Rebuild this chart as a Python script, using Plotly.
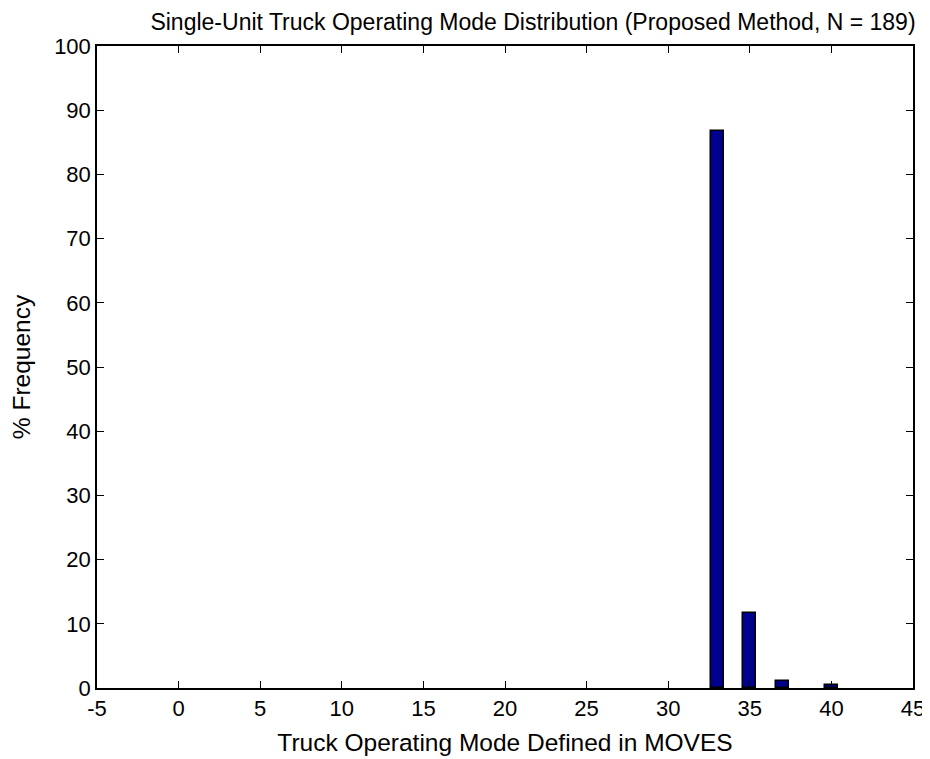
import plotly.graph_objects as go

op_modes = [33, 35, 37, 40]
pct_freq = [86.77, 11.64, 1.06, 0.53]

x_ticks = [-5, 0, 5, 10, 15, 20, 25, 30, 35, 40, 45]
y_ticks = [0, 10, 20, 30, 40, 50, 60, 70, 80, 90, 100]

title_text = "Single-Unit Truck Operating Mode Distribution (Proposed Method, N = 189)"
x_title = "Truck Operating Mode Defined in MOVES"
y_title = "% Frequency"

font_family = "Liberation Sans, Arial, sans-serif"

fig = go.Figure()
fig.add_trace(go.Bar(
    x=op_modes, y=pct_freq, width=0.8,
    marker=dict(color="rgb(0,0,143)", line=dict(color="black", width=1.5)),
))

axis_common = dict(
    showline=True, linecolor="black", linewidth=1.5, mirror="ticks",
    ticks="inside", ticklen=7, tickwidth=1.2, tickcolor="black",
    showgrid=False, zeroline=False, automargin=False,
    tickfont=dict(family=font_family, size=22, color="black"),
)

fig.update_layout(
    width=930, height=759,
    paper_bgcolor="white", plot_bgcolor="white",
    margin=dict(l=89, r=25, t=38, b=79),
    showlegend=False,
    bargap=0,
    title=dict(text=title_text, x=0.5645, xanchor="center", y=0.9816, yanchor="middle",
               font=dict(family=font_family, size=23, color="black")),
    xaxis=dict(range=[-5, 45], tickvals=x_ticks, ticktext=[str(v) for v in x_ticks],
               title=dict(text=x_title, standoff=14, font=dict(family=font_family, size=24.5, color="black")),
               **axis_common),
    yaxis=dict(range=[0, 100], tickvals=y_ticks, ticktext=[str(v) for v in y_ticks],
               title=dict(text=y_title, standoff=18, font=dict(family=font_family, size=24.5, color="black")),
               **axis_common),
)

fig.write_html("out.html")
